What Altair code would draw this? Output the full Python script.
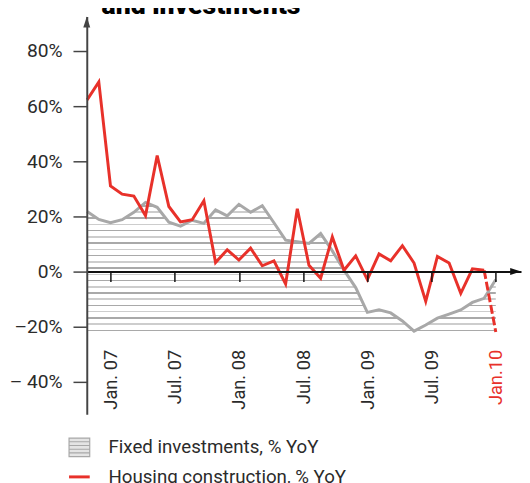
import altair as alt
import pandas as pd

# ---- data ----
fixed_investments = [21.8, 18.9, 17.7, 18.8, 21.5, 25.1, 23.3, 17.9, 16.5, 18.6,
                     17.5, 22.4, 20.2, 24.4, 21.5, 23.9, 17.7, 11.4, 10.8, 10.2,
                     13.8, 7.5, 0.5, -5.8, -14.8, -13.9, -15.0, -17.9, -21.6, -19.4,
                     -16.9, -15.4, -13.9, -11.2, -9.7, -2.9]
housing_construction = [62.3, 68.8, 31.1, 28.1, 27.4, 20.3, 42.1, 23.6, 18.0, 18.8,
                        25.7, 3.3, 7.9, 4.2, 8.5, 2.1, 3.9, -4.5, 22.8, 2.3,
                        -2.4, 12.6, 0.5, 5.7, -2.9, 6.4, 3.9, 9.4, 3.1, -10.8,
                        5.5, 3.1, -7.9, 1.0, 0.5, -21.9]
period = list(range(len(fixed_investments)))

series_names = ["Fixed investments, % YoY", "Housing construction, % YoY"]
series_colors = ["#a8a8a8", "#e8312a"]

x_tick_values = [2, 7.5, 13, 18.5, 24, 29.5, 35]
x_tick_labels = ["Jan. 07", "Jul. 07", "Jan. 08", "Jul. 08", "Jan. 09", "Jul. 09", "Jan.10"]
y_tick_values = [-40, -20, 0, 20, 40, 60, 80]
y_tick_labels = ["\u2013 40%", "\u201320%", "0%", "20%", "40%", "60%", "80%"]

# ---- scales ----
XMIN, XMAX = -0.03, 37.16
YMIN, YMAX = -51.8, 92.5
W, H = 441, 404

# ---- tables ----
n = len(period)
df_fixed = pd.DataFrame({"idx": period, "value": fixed_investments, "series": series_names[0]})
df_house = pd.DataFrame({"idx": period, "value": housing_construction, "series": series_names[1]})
df_solid = pd.concat([df_fixed, df_house.iloc[: n - 1]], ignore_index=True)
df_dash = df_house.iloc[n - 2:].reset_index(drop=True)

# ---- striped fill for the fixed-investment area ----
FMAX, BASE = max(fixed_investments), min(fixed_investments)
span = FMAX - BASE
STEP, TH = 2.26, 0.55
stripe_colors = ["#a9a9a9", "#cdcdcd"]
levels = []
k = 0
while BASE + k * STEP + TH <= FMAX:
    levels.append((k, BASE + k * STEP))
    k += 1
stops = [alt.GradientStop(color="white", offset=0)]
for k, lv in reversed(levels):
    top = (FMAX - lv - TH) / span
    bot = min(1.0, (FMAX - lv) / span)
    c = stripe_colors[k % 2]
    stops += [alt.GradientStop(color="white", offset=top),
              alt.GradientStop(color=c, offset=top),
              alt.GradientStop(color=c, offset=bot),
              alt.GradientStop(color="white", offset=bot)]
stripes = alt.Gradient(gradient="linear", stops=stops, x1=0, x2=0, y1=0, y2=1)

# ---- encodings ----
x_expr = "[" + ",".join("'%s'" % s for s in x_tick_labels) + "][indexof([" + \
    ",".join(str(v) for v in x_tick_values) + "], datum.value)]"
y_expr = "[" + ",".join("'%s'" % s for s in y_tick_labels) + "][indexof([" + \
    ",".join(str(v) for v in y_tick_values) + "], datum.value)]"

zero_offset = -(0 - YMIN) * H / (YMAX - YMIN)

X = alt.X("idx:Q", scale=alt.Scale(domain=[XMIN, XMAX], nice=False, zero=False),
          axis=alt.Axis(values=x_tick_values, labelExpr=x_expr, title=None, grid=False,
                        offset=zero_offset, labelAngle=270, labelPadding=69,
                        labelFont="Roboto", labelFontSize=18.5, labelFlush=False,
                        labelColor={"condition": {"test": "datum.value == 35", "value": "#e8312a"},
                                    "value": "#2b2b2b"},
                        domainColor="#111111", domainWidth=2, tickColor="#111111",
                        tickWidth=1.5, tickSize=10, zindex=1, labelOverlap=False))
Y = alt.Y("value:Q", scale=alt.Scale(domain=[YMIN, YMAX], nice=False, zero=False),
          axis=alt.Axis(values=y_tick_values, labelExpr=y_expr, title=None, grid=False,
                        labelFont="Roboto", labelFontSize=19.5, labelColor="#2b2b2b",
                        labelPadding=11, domainColor="#444444", domainWidth=2,
                        tickColor="#444444", tickWidth=1.5, tickSize=14, zindex=1,
                        labelOverlap=False))

STRIPE_PATH = "M-1,-0.9H1V0.9H-1Z M-1,-0.54H1 M-1,-0.18H1 M-1,0.18H1 M-1,0.54H1"
LINE_PATH = "M-1,0H1"
test0 = "datum.value == '%s'" % series_names[0]

legend = alt.Legend(orient="none", legendX=-17, legendY=428, title=None, padding=0,
                    symbolSize=441, labelFont="Roboto", labelFontSize=19,
                    labelColor="#2b2b2b", labelOffset=20, rowPadding=8, labelLimit=0,
                    symbolType=alt.ExprRef(expr="%s ? '%s' : '%s'" % (test0, STRIPE_PATH, LINE_PATH)),
                    symbolFillColor=alt.ExprRef(expr="%s ? '#e4e4e4' : 'transparent'" % test0),
                    symbolStrokeWidth=alt.ExprRef(expr="%s ? 1.2 : 3" % test0))

COLOR = alt.Color("series:N", scale=alt.Scale(domain=series_names, range=series_colors),
                  legend=legend)

area = alt.Chart(df_fixed).mark_area(fill=stripes, opacity=1, strokeWidth=0).encode(
    x=X, y=Y, y2=alt.datum(BASE))

lines = alt.Chart(df_solid).mark_line(strokeWidth=3).encode(
    x=X, y=Y, color=COLOR, detail="series:N")

dashed = alt.Chart(df_dash).mark_line(strokeWidth=3, strokeDash=[9, 3]).encode(
    x=X, y=Y, color=COLOR)

arrow_up = alt.Chart(pd.DataFrame({"idx": [XMIN], "value": [YMAX]})).mark_point(
    shape="M0,-1L0.64,1L-0.64,1Z", filled=True, size=121, color="#444444",
    opacity=1, yOffset=5.5).encode(x=X, y=Y)
arrow_right = alt.Chart(pd.DataFrame({"idx": [XMAX], "value": [0]})).mark_point(
    shape="M1,0L-1,0.64L-1,-0.64Z", filled=True, size=121, color="#111111",
    opacity=1, xOffset=-5.5).encode(x=X, y=Y)

chart = alt.layer(area, lines, dashed, arrow_up, arrow_right).properties(
    width=W, height=H,
    autosize=alt.AutoSizeParams(type="none"),
    padding={"left": 80, "top": 5, "right": 1, "bottom": 66},
    title=alt.TitleParams(text="and investments", anchor="start", frame="group",
                          orient="top", offset=-24, dx=15, font="Roboto",
                          fontSize=27, fontWeight=900, color="#000000",
                          baseline="alphabetic"),
).configure_view(stroke=None)

chart.save("out.html", embed_options={"renderer": "svg", "actions": False})
